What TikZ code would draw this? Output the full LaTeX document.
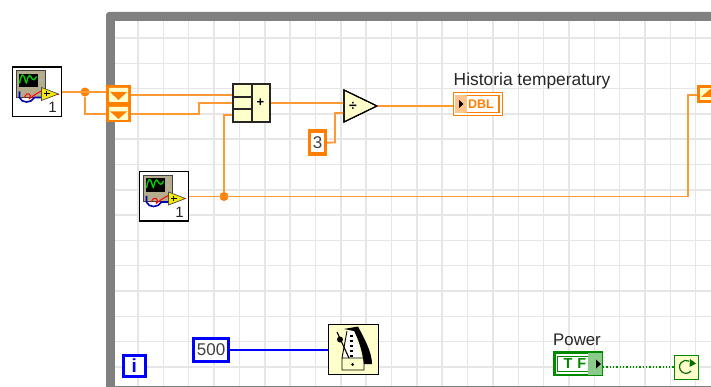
\documentclass[tikz,border=0pt]{standalone}
\usepackage{fontspec}
\setmainfont{Liberation Sans}
\definecolor{wireor}{HTML}{FF9933}
\definecolor{termor}{HTML}{FF7F00}
\definecolor{cream}{HTML}{FFFFCC}
\definecolor{gridc}{HTML}{E6E6E6}
\definecolor{framec}{HTML}{808080}
\definecolor{bluec}{HTML}{0000FF}
\definecolor{greenc}{HTML}{008A00}
\definecolor{panelc}{HTML}{B4AC8C}
\tikzset{
 x=1pt,y=-1pt,
 box/.style={draw=black,line width=1pt,inner sep=0pt,anchor=north west},
 wire/.style={draw=wireor,line width=1.9pt},
 bluewire/.style={draw=bluec,line width=1.6pt},
 greenwire/.style={draw=greenc,line width=1.3pt,dotted},
 dotn/.style={circle,fill=termor,inner sep=0pt,minimum size=9pt},
 txt/.style={inner sep=0pt,font=\fontsize{17.4}{18}\selectfont,text=black!85},
 orangebox/.style={draw=termor,line width=3.2pt,fill=white,inner sep=0pt,anchor=north west,text=black!75},
 bluebox/.style={draw=bluec,line width=3.2pt,fill=white,inner sep=0pt,anchor=north west,text=black!75},
}
\newcommand{\scopeicon}[3]{%
 \node[box,fill=white,minimum width=49pt,minimum height=49.5pt,line width=1.4pt] (#1) at (#2,#3) {};
 \begin{scope}[shift={(#2,#3)}]
  \fill[panelc] (4.5,4.5) rectangle (34,31);
  \draw[black!75,line width=1pt] (4.5,4.5) rectangle (34,31);
  \fill[black] (7,7.5) rectangle (26,21);
  \draw[green!80!black,line width=1.4pt] (8,17) .. controls (10,6) and (12,6) .. (14,15) .. controls (15,20) and (16,9) .. (18,9) .. controls (20,9) and (21,18) .. (25,10);
  \fill[gray!60] (29,8) circle (1.5) (29,14) circle (1.5) (29,21) circle (1.5);
  \draw[black!30!blue,line width=1.6pt] (8,25) -- (8,31) .. controls (10,37) and (20,37) .. (23,31) -- (31,31);
  \draw[red,line width=1pt] (13,31) .. controls (15,24) and (21,28) .. (18,32) .. controls (15,35) and (22,28) .. (31,24);
  \fill[yellow!95!black,draw=black!70,line width=.7pt] (30,21) -- (47,27.5) -- (30,34) -- cycle;
  \draw[black,line width=1pt] (32,27.5) -- (38,27.5) (35,25) -- (35,30);
  \draw[red,line width=.9pt] (45,27.5) -- (47.5,27.5);
  \node[inner sep=0pt,font=\fontsize{15}{16}\selectfont,text=black!85] at (41,41) {1};
 \end{scope}}
\begin{document}
\begin{tikzpicture}
\useasboundingbox (0,0) rectangle (711,387);
\fill[white] (0,0) rectangle (711,387);
% frame
\fill[framec,rounded corners=3pt] (106,12) rectangle (720,392);
\fill[white] (115,21) rectangle (711,385.5);
% grid
\foreach \i in {0,...,22} {\draw[gridc,line width=1.5pt] ({138+25.35*\i},21) -- ({138+25.35*\i},385.5);}
\foreach \i in {0,...,13} {\draw[gridc,line width=1.5pt] (115,{38+25.3*\i}) -- (711,{38+25.3*\i});}
% icons
\scopeicon{scopeA}{11.5}{66.5}
\scopeicon{scopeB}{138.5}{171}
% junctions
\node[dotn] (jA) at (85,92) {};
\node[dotn] (jB) at (224,196.5) {};
% shift registers
\node[anchor=north west,fill=termor,minimum width=25pt,minimum height=37pt,inner sep=0pt] (srA) at (106,85) {};
\fill[cream] (109,88) rectangle (128,102) (109,107) rectangle (128,120);
\fill[termor] (110,92) -- (127,92) -- (118.5,100) -- cycle (110,111.5) -- (127,111.5) -- (118.5,119) -- cycle;
\coordinate (srAup) at (131,95);
\coordinate (srAlow) at (131,114);
\coordinate (srAinup) at (106,92);
\coordinate (srAinlow) at (106,114);
\node[anchor=north west,fill=termor,minimum width=14pt,minimum height=18pt,inner sep=0pt] (srB) at (697,85) {};
\fill[cream] (700,88) rectangle (711,100);
\fill[termor] (701,97) -- (711,97) -- (711,88.5) -- cycle;
\coordinate (srBin) at (697,95);
% add
\node[box,fill=cream,minimum width=37pt,minimum height=38pt] (addn) at (233,84) {};
\node[inner sep=0pt,font=\fontsize{13}{14}\selectfont\bfseries] (plus) at (260.5,103) {+};
\coordinate (addA) at (233,95);
\coordinate (addB) at (233,103);
\coordinate (addC) at (233,115);
% divide
\draw[black,line width=1.1pt,fill=cream] (344,90) -- (377,106) -- (344,122) -- cycle;
\node[inner sep=0pt,font=\fontsize{14}{15}\selectfont\bfseries] (divs) at (353,106) {÷};
\coordinate (divA) at (344,103);
\coordinate (divB) at (344,113);
\coordinate (divOut) at (377,106);
% constant 3
\node[orangebox,minimum width=16pt,minimum height=23pt,font=\fontsize{17}{18}\selectfont] (three) at (308,129.5) {3};
% indicator
\node[draw=termor,line width=1.3pt,fill=white,minimum width=49pt,minimum height=23pt,anchor=north west,inner sep=0pt] (dbl) at (453,92) {};
\draw[termor,line width=1.2pt] (456.5,95.5) rectangle (499,112.5);
\fill[termor!45] (455,95) rectangle (467,113);
\fill[black] (459,100) -- (463.5,104) -- (459,108) -- cycle;
\node[inner sep=0pt,font=\fontsize{12.5}{13}\selectfont\bfseries,text=termor] (dbltxt) at (481,104) {DBL};
\node[txt,anchor=base west] (hist) at (453.5,85.5) {Historia temperatury};
% blue
\node[bluebox,minimum width=21.5pt,minimum height=21pt,font=\fontsize{19}{20}\selectfont\bfseries] (iter) at (122,354) {\textcolor{bluec}{i}};
\node[bluebox,minimum width=35pt,minimum height=23pt,font=\fontsize{17}{18}\selectfont] (five) at (192,337) {500};
\node[box,fill=cream,minimum width=50pt,minimum height=50pt] (wait) at (328,324) {};
\fill[black] (344,329) -- (358,326.5) .. controls (364,338) and (372,352) .. (372,364) -- (364,364) .. controls (362,350) and (358,338) .. (354,331) -- cycle;
\fill[white] (347,331) -- (354,331) -- (361,358) -- (344,358) -- cycle;
\draw[black,line width=.9pt] (347,331) -- (342,358) (342,358) rectangle (364,370);
\draw[black,line width=1.1pt] (337,332) -- (349,358);
\fill[black] (340,339.5) circle (3);
\foreach \yy in {335,340,345,350,355} {\fill[black] (350,\yy) rectangle (353,{\yy+1.6});}
\fill[black] (352.5,364.5) circle (1.5);
% green
\node[draw=greenc,line width=2.6pt,fill=white,minimum width=47.5pt,minimum height=22.5pt,anchor=north west,inner sep=0pt] (tf) at (553,351) {};
\draw[greenc,line width=1.2pt] (557.5,356.5) rectangle (598,371.5);
\fill[greenc!45] (588,353) rectangle (602,375);
\fill[black] (596,359.5) -- (601,364) -- (596,368.5) -- cycle;
\node[inner sep=0pt,font=\fontsize{14.5}{15}\selectfont\bfseries,text=greenc] (tftxt) at (575,364) {T\,\,F};
\node[txt,anchor=base west,font=\fontsize{16.8}{18}\selectfont] (pow) at (553,345.5) {Power};
\node[draw=greenc,line width=1pt,fill=cream,minimum width=24pt,minimum height=24pt,anchor=north west,inner sep=0pt] (cond) at (673.5,354.5) {};
\draw[greenc!80!black,line width=1.2pt] (691,371) arc (40:300:6.5);
\fill[greenc!80!black] (690,359) -- (696,363.5) -- (689.5,367) -- cycle;
% wires
\draw[wire] (scopeA.east |- jA) -- (srAinup);
\draw[wire] (jA) |- (srAinlow);
\draw[wire] (srAup) -- (addA);
\draw[wire] (srAlow) -- (199,114) |- (addB);
\draw[wire] (jB) -- (224,115) -- (addC);
\draw[wire] (scopeB.east |- jB) -- (688,196.5) |- (srBin);
\draw[wire] (addn.east |- divA) -- (divA);
\draw[wire] (three.east) -- (335,142.5) |- (divB);
\draw[wire] (divOut) -- (dbl.west |- divOut);
\draw[bluewire] (five.east) -- (wait.west |- five.east);
\draw[greenwire] (tf.east |- cond.west) -- (cond.west);
% borders redrawn above wire ends
\draw[black!85,line width=1.1pt] (233,84) rectangle (270,122) (252,84) -- (252,122) (233,97) -- (252,97) (233,109) -- (252,109);
\draw[black,line width=1.1pt] (344,90) -- (377,106) -- (344,122) -- cycle;
\end{tikzpicture}
\end{document}
